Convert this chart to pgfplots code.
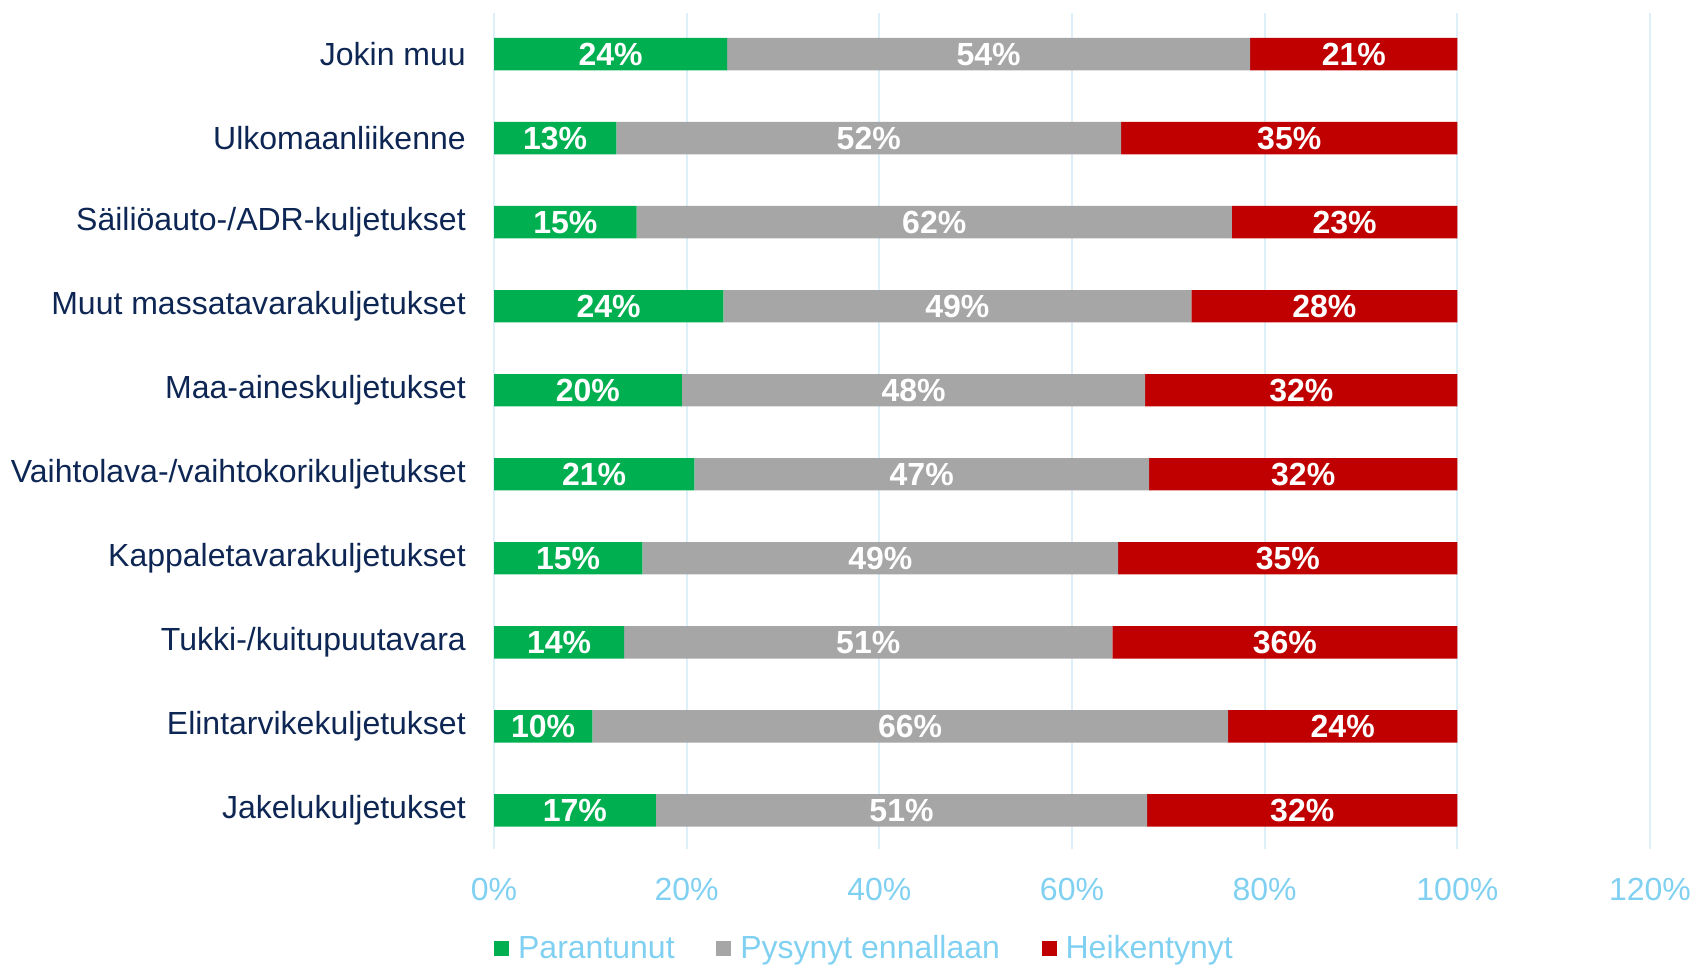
\documentclass[border=0pt]{standalone}
\usepackage{fontspec}
\setmainfont{Liberation Sans}
\usepackage{pgfplots}
\usepackage{pgfplotstable}
\pgfplotsset{compat=1.18}
\definecolor{cgreen}{HTML}{00B050}
\definecolor{cgray}{HTML}{A6A6A6}
\definecolor{cred}{HTML}{C00000}
\definecolor{navy}{HTML}{0E2654}
\definecolor{tickc}{HTML}{80D0F2}
\definecolor{gridc}{HTML}{DDEFF8}
\pgfplotstableread{
y g gl s sl r rl
0 16.8 17 51.0 51 32.2 32
1 10.2 10 66.0 66 23.8 24
2 13.5 14 50.7 51 35.8 36
3 15.4 15 49.4 49 35.2 35
4 20.8 21 47.2 47 32.0 32
5 19.5 20 48.1 48 32.4 32
6 23.8 24 48.6 49 27.6 28
7 14.8 15 61.8 62 23.4 23
8 12.7 13 52.4 52 34.9 35
9 24.2 24 54.3 54 21.5 21
}\datatable
\begin{document}
\begin{tikzpicture}[x=1pt,y=1pt]
\useasboundingbox (0,0) rectangle (848,482);
\begin{axis}[
  at={(247pt,57.5pt)}, anchor=south west,
  scale only axis, width=578pt, height=418pt,
  xbar stacked, bar width=16.2pt,
  xmin=0, xmax=120, ymin=-0.46, ymax=9.49,
  xtick={0,20,...,120},
  xticklabel={\pgfmathprintnumber{\tick}\%},
  ytick={0,...,9},
  yticklabels={Jakelukuljetukset,Elintarvikekuljetukset,Tukki-/kuitupuutavara,Kappaletavarakuljetukset,Vaihtolava-/vaihtokorikuljetukset,Maa-aineskuljetukset,Muut massatavarakuljetukset,Säiliöauto-/ADR-kuljetukset,Ulkomaanliikenne,Jokin muu},
  axis line style={draw=none},
  major tick length=0pt,
  xmajorgrids, grid style={color=gridc, line width=0.9pt},
  tick label style={font=\fontsize{16}{19}\selectfont},
  xticklabel style={color=tickc, yshift=-11pt},
  yticklabel style={color=navy, xshift=-10.6pt},
  /pgf/number format/assume math mode=true,
  point meta=explicit symbolic,
  nodes near coords={\pgfplotspointmeta\%},
  every node near coord/.append style={font=\bfseries\fontsize{16}{19}\selectfont, text=white},
  legend columns=-1,
  legend style={draw=none, fill=none, at={(0.3235,-0.119)}, anchor=center,
    font=\fontsize{16}{19}\selectfont, text=tickc,
    /tikz/every even column/.append style={column sep=16.3pt},
    /tikz/every odd column/.append style={column sep=0pt},
    nodes={inner xsep=4.5pt}},
  legend image code/.code={\fill[#1] (0pt,-3.75pt) rectangle (7.5pt,3.75pt);},
]
\addplot[fill=cgreen, draw=none] table[x=g, y=y, meta=gl]{\datatable};
\addplot[fill=cgray, draw=none] table[x=s, y=y, meta=sl]{\datatable};
\addplot[fill=cred, draw=none] table[x=r, y=y, meta=rl]{\datatable};
\legend{Parantunut, Pysynyt ennallaan, Heikentynyt}
\end{axis}
\end{tikzpicture}
\end{document}
